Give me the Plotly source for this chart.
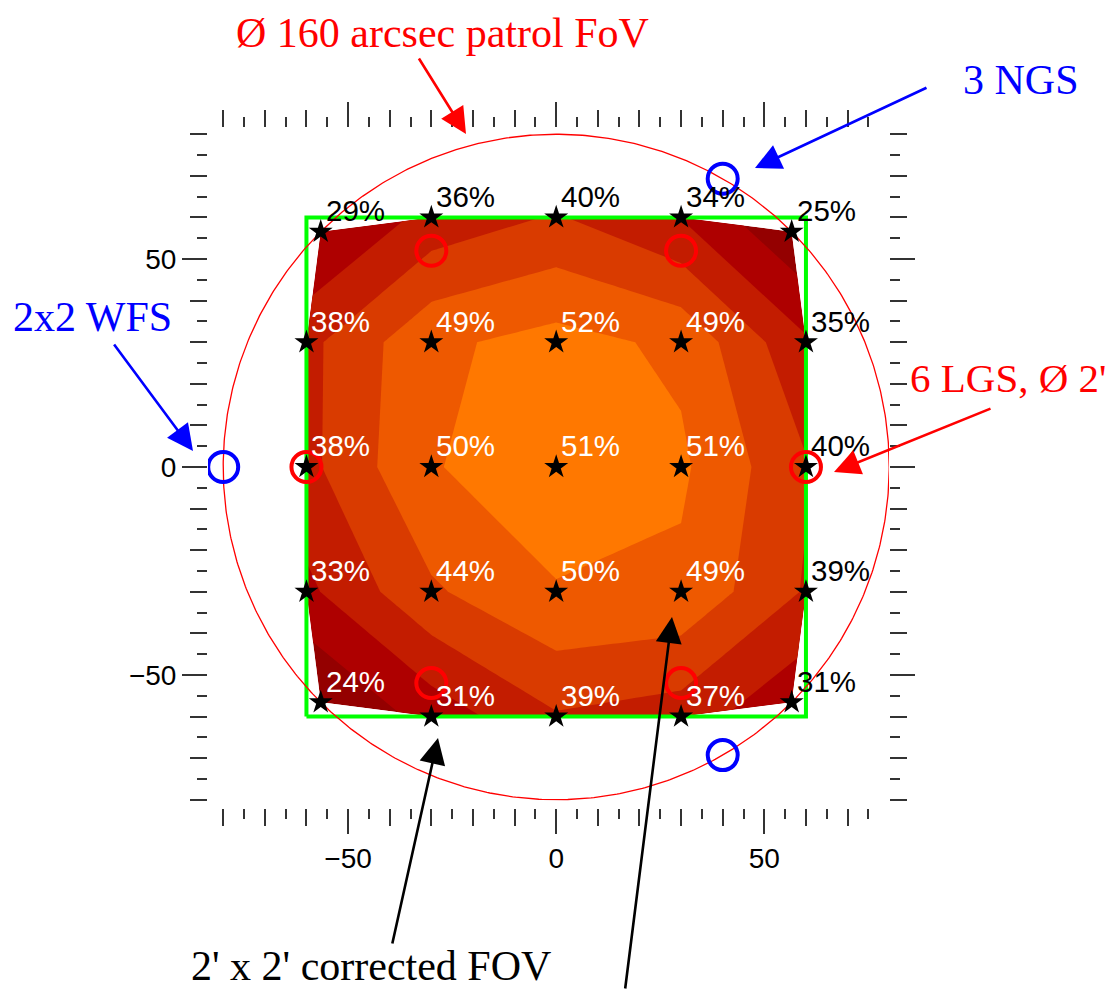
import numpy as np
import plotly.graph_objects as go

# ---------------- data ----------------
grid_x = [-60, -30, 0, 30, 60]          # arcsec
grid_y = [60, 30, 0, -30, -60]          # arcsec (rows, top to bottom)
strehl = [                              # percent
    [29, 36, 40, 34, 25],
    [38, 49, 52, 49, 35],
    [38, 50, 51, 51, 40],
    [33, 44, 50, 49, 39],
    [24, 31, 39, 37, 31],
]
patrol_diameter = 160                   # arcsec
lgs_diameter = 120                      # arcsec (2')
lgs_angles = [0, 60, 120, 180, 240, 300]
ngs_angles = [60, 180, 300]
fov_half = 60
contour_start, contour_end, contour_step = 28.9, 50.1, 5.3
band_colors = ["#940000", "#AE0000", "#C31C00", "#D93B00", "#EE5900", "#FF7800"]

# ---------------- geometry derived from data ----------------
R = patrol_diameter / 2
X, Y = np.meshgrid(np.array(grid_x, float), np.array(grid_y, float))
corner = (np.abs(X) == fov_half) & (np.abs(Y) == fov_half)
X[corner] = np.sign(X[corner]) * R / np.sqrt(2)
Y[corner] = np.sign(Y[corner]) * R / np.sqrt(2)
Z = np.array(strehl, float)

OFF = 8                                  # page body margin
W, H = 1118 - 2 * OFF, 998 - 2 * OFF
ML, MT = 208 - OFF, 128 - OFF
MR = W - (889 - OFF)
MB = H - (808 - OFF)
PW, PH = W - ML - MR, H - MT - MB
xr = [-83.65, 79.95]
yr = [-82.0, 81.5]


def paper(px, py):
    return (px - OFF - ML) / PW, (H - MB - (py - OFF)) / PH


fig = go.Figure()

ia = list(range(len(grid_x)))
ib = list(range(len(grid_y)))
hidden_ax = dict(showgrid=False, showline=False, showticklabels="none",
                 startline=False, endline=False, smoothing=0, minorgridcount=0)
fig.add_trace(go.Carpet(a=ia, b=ib, x=X.tolist(), y=Y.tolist(), carpet="c1",
                        aaxis=hidden_ax, baxis=hidden_ax))
n = len(band_colors)
fig.add_trace(go.Contourcarpet(
    a=ia, b=ib, z=Z.tolist(), carpet="c1", autocontour=False,
    contours=dict(start=contour_start, end=contour_end, size=contour_step,
                  coloring="fill", showlines=False),
    line=dict(width=0, smoothing=0),
    colorscale=[[i / (n - 1), c] for i, c in enumerate(band_colors)],
    showscale=False))

# corrected FOV square
sq_x = [-fov_half, fov_half, fov_half, -fov_half, -fov_half]
sq_y = [-fov_half, -fov_half, fov_half, fov_half, -fov_half]
fig.add_trace(go.Scatter(x=sq_x, y=sq_y, mode="lines",
                         line=dict(color="#00FF00", width=4), hoverinfo="skip"))

# patrol circle
t = np.linspace(0, 2 * np.pi, 721)
fig.add_trace(go.Scatter(x=R * np.cos(t), y=R * np.sin(t), mode="lines",
                         line=dict(color="#FF0000", width=1.3), hoverinfo="skip"))

# evaluation points
fig.add_trace(go.Scatter(x=X.flatten(), y=Y.flatten(), mode="markers",
                         marker=dict(symbol="star", size=18, color="black"),
                         hoverinfo="skip"))

# LGS
la = np.radians(lgs_angles)
fig.add_trace(go.Scatter(x=lgs_diameter / 2 * np.cos(la), y=lgs_diameter / 2 * np.sin(la),
                         mode="markers",
                         marker=dict(symbol="circle-open", size=30, color="#FF0000",
                                     line=dict(width=4, color="#FF0000")),
                         hoverinfo="skip"))
# NGS
na = np.radians(ngs_angles)
fig.add_trace(go.Scatter(x=R * np.cos(na), y=R * np.sin(na), mode="markers",
                         marker=dict(symbol="circle-open", size=30, color="#0000FF",
                                     line=dict(width=4, color="#0000FF")),
                         hoverinfo="skip"))

# dummy traces for overlay tick axes
for xa, ya in [("x2", "y"), ("x3", "y"), ("x4", "y"), ("x", "y2"), ("x", "y3"), ("x", "y4")]:
    fig.add_trace(go.Scatter(x=[None], y=[None], xaxis=xa, yaxis=ya,
                             showlegend=False, hoverinfo="skip"))

annotations = []
# percent labels
nrow, ncol = Z.shape
for j in range(nrow):
    for i in range(ncol):
        outside = (j == 0) or (i == ncol - 1)
        annotations.append(dict(
            x=X[j, i], y=Y[j, i], xref="x", yref="y", text=f"{strehl[j][i]}%",
            showarrow=False, xanchor="left", yanchor="middle", xshift=3, yshift=21,
            font=dict(family="Liberation Sans, Arial", size=29.5,
                      color="black" if outside else "white")))

serif = "Liberation Serif, Times New Roman"


def text_ann(txt, px, py, color, xanchor="center", size=42):
    xp, yp = paper(px, py)
    annotations.append(dict(x=xp, y=yp, xref="paper", yref="paper", text=txt,
                            showarrow=False, xanchor=xanchor, yanchor="middle",
                            font=dict(family=serif, size=size, color=color)))


def arrow(tail, tip, color):
    xp, yp = paper(*tip)
    annotations.append(dict(x=xp, y=yp, xref="paper", yref="paper", text="",
                            showarrow=True, axref="pixel", ayref="pixel",
                            ax=tail[0] - tip[0], ay=tail[1] - tip[1],
                            arrowhead=2, arrowsize=2.0, arrowwidth=2.6,
                            arrowcolor=color, standoff=0))


text_ann("Ø 160 arcsec patrol FoV", 442, 33, "#FF0000")
text_ann("3 NGS", 1021, 80, "#0000FF")
text_ann("2x2 WFS", 92, 317, "#0000FF")
text_ann("6 LGS, Ø 2'", 1108, 378, "#FF0000", xanchor="right", size=41)
text_ann("2' x 2' corrected FOV", 371, 966, "black")

arrow((418, 57), (466, 134), "#FF0000")
arrow((928, 87), (755, 168), "#0000FF")
arrow((113, 343), (193, 451), "#0000FF")
arrow((992, 408), (834, 472), "#FF0000")
arrow((392, 945), (438, 738), "black")
arrow((625, 1002), (672, 617), "black")

tickc = "#333333"
common = dict(showgrid=False, zeroline=False, showline=False, ticks="outside",
              tickcolor=tickc, tickwidth=1.5, automargin=False)
big = dict(tickmode="array", tickvals=[-50, 0, 50], ticklen=25)
med = dict(tickmode="linear", tick0=0, dtick=10, ticklen=17, showticklabels=False,
           minor=dict(tick0=0, dtick=5, ticklen=10, ticks="outside",
                      tickcolor=tickc, tickwidth=1.5))
tfont = dict(family="Liberation Sans, Arial", size=28, color="black")

fig.update_layout(
    width=W, height=H, autosize=False,
    margin=dict(l=ML, r=MR, t=MT, b=MB),
    plot_bgcolor="white", paper_bgcolor="white",
    showlegend=False,
    xaxis=dict(range=xr, domain=[0, 1], anchor="y", side="bottom", tickfont=tfont, **common, **big),
    xaxis2=dict(range=xr, overlaying="x", anchor="y", side="bottom", **common, **med),
    xaxis3=dict(range=xr, overlaying="x", anchor="y", side="top", showticklabels=False, **common, **big),
    xaxis4=dict(range=xr, overlaying="x", anchor="y", side="top", **common, **med),
    yaxis=dict(range=yr, domain=[0, 1], anchor="x", side="left", tickfont=tfont, **common, **big),
    yaxis2=dict(range=yr, overlaying="y", anchor="x", side="left", **common, **med),
    yaxis3=dict(range=yr, overlaying="y", anchor="x", side="right", showticklabels=False, **common, **big),
    yaxis4=dict(range=yr, overlaying="y", anchor="x", side="right", **common, **med),
    annotations=annotations,
)

fig.write_html("out.html")
